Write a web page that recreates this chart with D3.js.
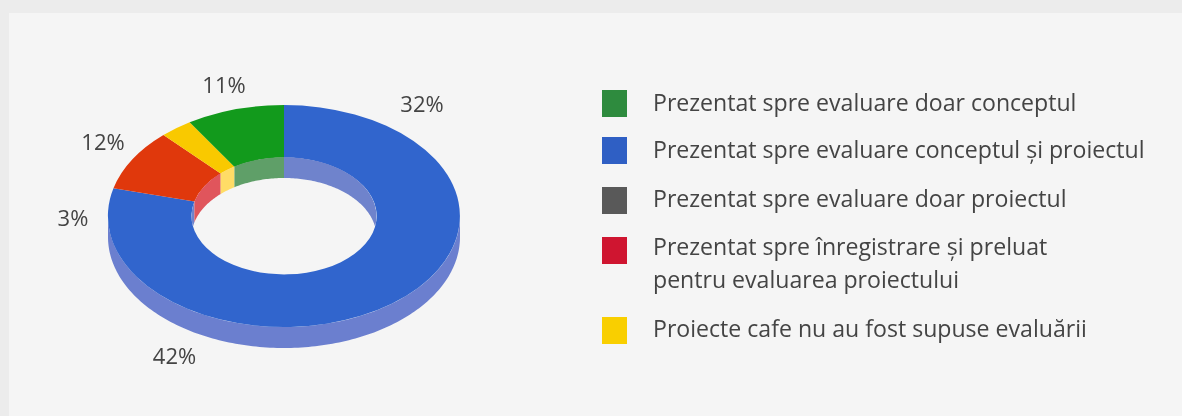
<!DOCTYPE html>
<html><head><meta charset="utf-8">
<script src="https://cdn.jsdelivr.net/npm/d3@7"></script>
<style>html,body{margin:0;padding:0;background:#ececec;overflow:hidden}svg{display:block;filter:blur(0.4px)}</style>
</head><body><svg id="c" width="1182" height="416"></svg>
<script>
// Slice shares as drawn (clockwise from 12 o'clock)
const sliceNames = ["conceptul și proiectul", "înregistrare", "neevaluate", "doar conceptul"];
const sliceValues = [79, 9, 3, 9];
const sliceColors = ["#3165cd", "#e0380c", "#f9c900", "#129a1c"];
const innerWallColors = ["#6f83cc", "#e0555c", "#ffdc66", "#5f9f68"];
const outerWallColor = "#6b7fcf";
// Percent labels as printed
const percentLabels = ["11%", "32%", "12%", "3%", "42%"];
const labelX = [224, 422, 103, 73, 174.5];
const labelY = [93, 112, 150, 226, 364];
// Legend
const legendColors = ["#2e8b3e", "#2f5fc4", "#595959", "#cf1530", "#f9cf00"];
const legendLines = [["Prezentat spre evaluare doar conceptul"],["Prezentat spre evaluare conceptul și proiectul"],["Prezentat spre evaluare doar proiectul"],["Prezentat spre înregistrare și preluat","pentru evaluarea proiectului"],["Proiecte cafe nu au fost supuse evaluării"]];
const legendSquareY = [90, 137, 187, 237, 317];
const legendBaseline = [[111],[158],[207],[255,288],[337]];

const FONT = "'Open Sans', sans-serif";
const svg = d3.select("#c");
svg.append("rect").attr("x",9).attr("y",13).attr("width",1173).attr("height",403).attr("fill","#f5f5f5");

const cx=284, cy=216, rx=176, ry=111, irx=92.5, iry=59, depth=21;
const pie = d3.pie().sort(null).value(d=>d);
const arcs = pie(sliceValues);
const TAU = 2*Math.PI;

function wallPath(a0,a1,rX,rY){
  const n = Math.max(2,Math.ceil((a1-a0)/0.02));
  const as = d3.range(n+1).map(i=>a0+(a1-a0)*i/n);
  const top = as.map(a=>[cx+rX*Math.sin(a), cy-rY*Math.cos(a)]);
  const bot = as.slice().reverse().map(a=>[cx+rX*Math.sin(a), cy-rY*Math.cos(a)+depth]);
  return d3.line()(top.concat(bot))+"Z";
}
svg.append("defs").append("clipPath").attr("id","hole").append("ellipse")
  .attr("cx",cx).attr("cy",cy).attr("rx",irx).attr("ry",iry);

// outer wall: visible on the front half (90° to 270°)
arcs.forEach(d=>{
  const a0=Math.max(d.startAngle,Math.PI/2), a1=Math.min(d.endAngle,3*Math.PI/2);
  if(a1>a0) svg.append("path").attr("d",wallPath(a0,a1,rx,ry)).attr("fill",outerWallColor);
});

// top face
const face = svg.append("g").attr("transform",`translate(${cx},${cy}) scale(${rx},${ry})`);
face.selectAll("path").data(arcs).join("path")
  .attr("d",d3.arc().innerRadius(irx/rx).outerRadius(1))
  .attr("fill",(d,i)=>sliceColors[i]);

// inner wall: visible on the back half (-90° to 90°), clipped to the hole
const inner = svg.append("g").attr("clip-path","url(#hole)");
arcs.forEach((d,i)=>{
  [[d.startAngle,d.endAngle],[d.startAngle-TAU,d.endAngle-TAU]].forEach(([s,e])=>{
    const a0=Math.max(s,-Math.PI/2), a1=Math.min(e,Math.PI/2);
    if(a1>a0) inner.append("path").attr("d",wallPath(a0,a1,irx,iry)).attr("fill",innerWallColors[i]);
  });
});

svg.selectAll("text.pct").data(percentLabels).join("text").attr("class","pct")
  .attr("x",(d,i)=>labelX[i]).attr("y",(d,i)=>labelY[i]).attr("text-anchor","middle")
  .attr("font-family",FONT).attr("font-size",22).attr("fill","#444").text(d=>d);

const lg = svg.selectAll("g.lg").data(legendLines).join("g").attr("class","lg");
lg.append("rect").attr("x",602).attr("y",(d,i)=>legendSquareY[i]).attr("width",25).attr("height",27)
  .attr("fill",(d,i)=>legendColors[i]);
lg.each(function(lines,i){
  d3.select(this).selectAll("text").data(lines).join("text")
    .attr("x",653).attr("y",(d,j)=>legendBaseline[i][j])
    .attr("font-family",FONT).attr("font-size",23.1).attr("fill","#444").text(d=>d);
});
</script></body></html>
